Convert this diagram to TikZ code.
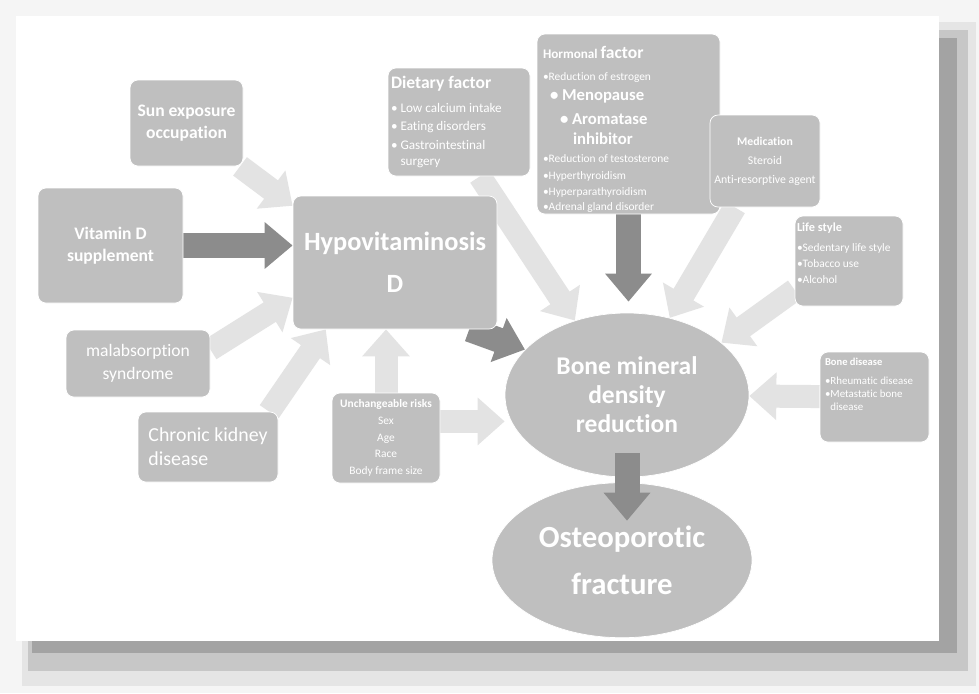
\documentclass[tikz,border=0pt]{standalone}
\usepackage{fontspec}
\setmainfont{Carlito}[Ligatures=NoCommon]
\usetikzlibrary{arrows.meta,positioning,shapes.geometric}
\pgfdeclarelayer{back}
\pgfdeclarelayer{mid}
\pgfsetlayers{back,mid,main}
% one line of a list box: size, baseline skip, text
\newcommand\tline[3]{{\noindent\fontsize{#1}{#2}\selectfont\spaceskip=0pt\xspaceskip=0pt #3\par}}

\begin{document}
\begin{tikzpicture}[
  x=0.2mm, y=-0.2mm,
  sz/.style 2 args={minimum width=#1*0.2mm, minimum height=#2*0.2mm},
  bx/.style={draw=white, fill=black!25, text=white, rounded corners=1.6mm, inner sep=1mm},
  ov/.style={ellipse, draw=white, fill=black!25, text=white, inner sep=0pt, align=center},
  lite/.style={line width=4.6mm, draw=black!11, -{Triangle[width=9.2mm,length=5.4mm]}},
  dark/.style={line width=5mm, draw=black!45, -{Triangle[width=9mm,length=5.6mm]}}
]
\useasboundingbox (0,0) rectangle (979,693);
% page with its shadow
\begin{pgfonlayer}{back}
\fill[black!4] (0,0) rectangle (979,693);
\fill[black!10] (22,22) rectangle (976,686);
\fill[black!22] (28,30) rectangle (968,671);
\fill[black!36] (32,38) rectangle (957,653);
\fill[white] (16,16) rectangle (939,641);
\end{pgfonlayer}

% risk boxes
\node[bx, sz={113}{86}, align=center, font=\fontsize{10}{12.5}\selectfont\bfseries] (sun) at (186.5,123) {Sun exposure\\occupation};
\node[bx, sz={145}{115}, align=center, font=\fontsize{10}{12.5}\selectfont\bfseries] (vitd) at (110.5,245.5) {Vitamin D\\supplement};
\node[bx, sz={144}{67}, align=center, font=\fontsize{10}{13}\selectfont] (mal) at (138,363.5) {malabsorption\\syndrome};
\node[bx, sz={140}{70}, align=left, font=\fontsize{11.3}{13.7}\selectfont] (ckd) at (208,447) {Chronic kidney\\disease};
\node[bx, sz={204}{133}, align=center, font=\fontsize{15}{24}\selectfont\bfseries] (hypo) at (395,262.5) {Hypovitaminosis\\D};
\node[bx, sz={142}{108}, text width=27.2mm, inner xsep=0.6mm, align=left] (diet) at (459,122) {%
  \tline{10}{10}{\bfseries Dietary factor}%
  \tline{7.5}{13.5}{• Low calcium intake}%
  \tline{7.5}{10.5}{• Eating disorders}%
  \tline{7.5}{10.5}{• Gastrointestinal}%
  \tline{7.5}{9}{\hphantom{• }surgery}};
\node[bx, sz={183}{180}, text width=34.2mm, inner xsep=1.2mm, align=left] (horm) at (628.5,124) {%
  \tline{7.5}{10}{\bfseries Hormonal {\fontsize{10}{10}\selectfont factor}}%
  \tline{6.5}{12.5}{•Reduction of estrogen}%
  \tline{9.5}{11.5}{\bfseries\hspace*{1.4mm}• Menopause}%
  \tline{9.5}{13.6}{\bfseries\hspace*{3.4mm}• Aromatase}%
  \tline{9.5}{11}{\bfseries\hspace*{6mm}inhibitor}%
  \tline{6.5}{10.5}{•Reduction of testosterone}%
  \tline{6.5}{9.8}{•Hyperthyroidism}%
  \tline{6.5}{8.8}{•Hyperparathyroidism}%
  \tline{6.5}{8.8}{•Adrenal gland disorder}\vspace*{-2.2mm}};
\node[bx, sz={110}{92}, inner xsep=0.4mm, align=center, font=\fontsize{6.7}{10.8}\selectfont] (med) at (765,161) {\textbf{Medication}\\Steroid\\Anti-resorptive agent};
\node[bx, sz={108}{90}, text width=20.8mm, inner xsep=0.4mm, align=left] (life) at (849,261) {%
  \tline{7}{7}{\bfseries Life style}%
  \tline{6.5}{11.3}{•Sedentary life style}%
  \tline{6.5}{9}{•Tobacco use}%
  \tline{6.5}{9}{•Alcohol}\vspace*{3.2mm}};
\node[bx, sz={109}{90}, text width=19.8mm, align=left] (bdis) at (874.5,397) {%
  \tline{6}{6}{\bfseries Bone disease}%
  \tline{6.2}{10.8}{•Rheumatic disease}%
  \tline{6.2}{7.4}{•Metastatic bone}%
  \tline{6.2}{7.4}{\hphantom{•}disease}\vspace*{5.2mm}};
\node[bx, sz={108}{90}, align=center, font=\fontsize{6.5}{9.6}\selectfont] (unch) at (386,438) {\textbf{Unchangeable risks}\\Sex\\Age\\Race\\Body frame size};

% outcomes and dark arrows
\begin{pgfonlayer}{mid}
\node[ov, sz={244}{164}, font=\fontsize{14.5}{16.5}\selectfont\bfseries] (bmd) at (627,395) {Bone mineral\\density\\reduction};
\node[ov, sz={260}{155}, below=1mm of bmd, xshift=-1mm, font=\fontsize{17.5}{26.6}\selectfont\bfseries] (osteo) {Osteoporotic\\fracture};
\draw[dark] (vitd) -- (vitd -| hypo.west);
\draw[dark] (hypo.-42) -- (bmd.156);
\draw[dark, shorten >=2.2mm] (horm) -- (horm |- bmd.north);
\draw[dark, shorten <=11.6mm, shorten >=7.9mm] (bmd.center) -- (bmd.center |- osteo.center);
\end{pgfonlayer}

% light arrows
\begin{pgfonlayer}{back}
\draw[lite] (sun.-39) -- (hypo.151);
\draw[lite] (mal.11) -- (hypo.199);
\draw[lite] (ckd.30) -- (hypo.224);
\draw[lite] (unch) -- (unch |- hypo.south);
\draw[lite] (unch.17) -- (unch.17 -| bmd.west);
\draw[lite] (diet.-69) -- (bmd.125);
\draw[lite] (med.237) -- (bmd.61);
\draw[lite] (life.208) -- (bmd.29);
\draw[lite] (bdis) -- (bmd);
\end{pgfonlayer}
\end{tikzpicture}
\end{document}
